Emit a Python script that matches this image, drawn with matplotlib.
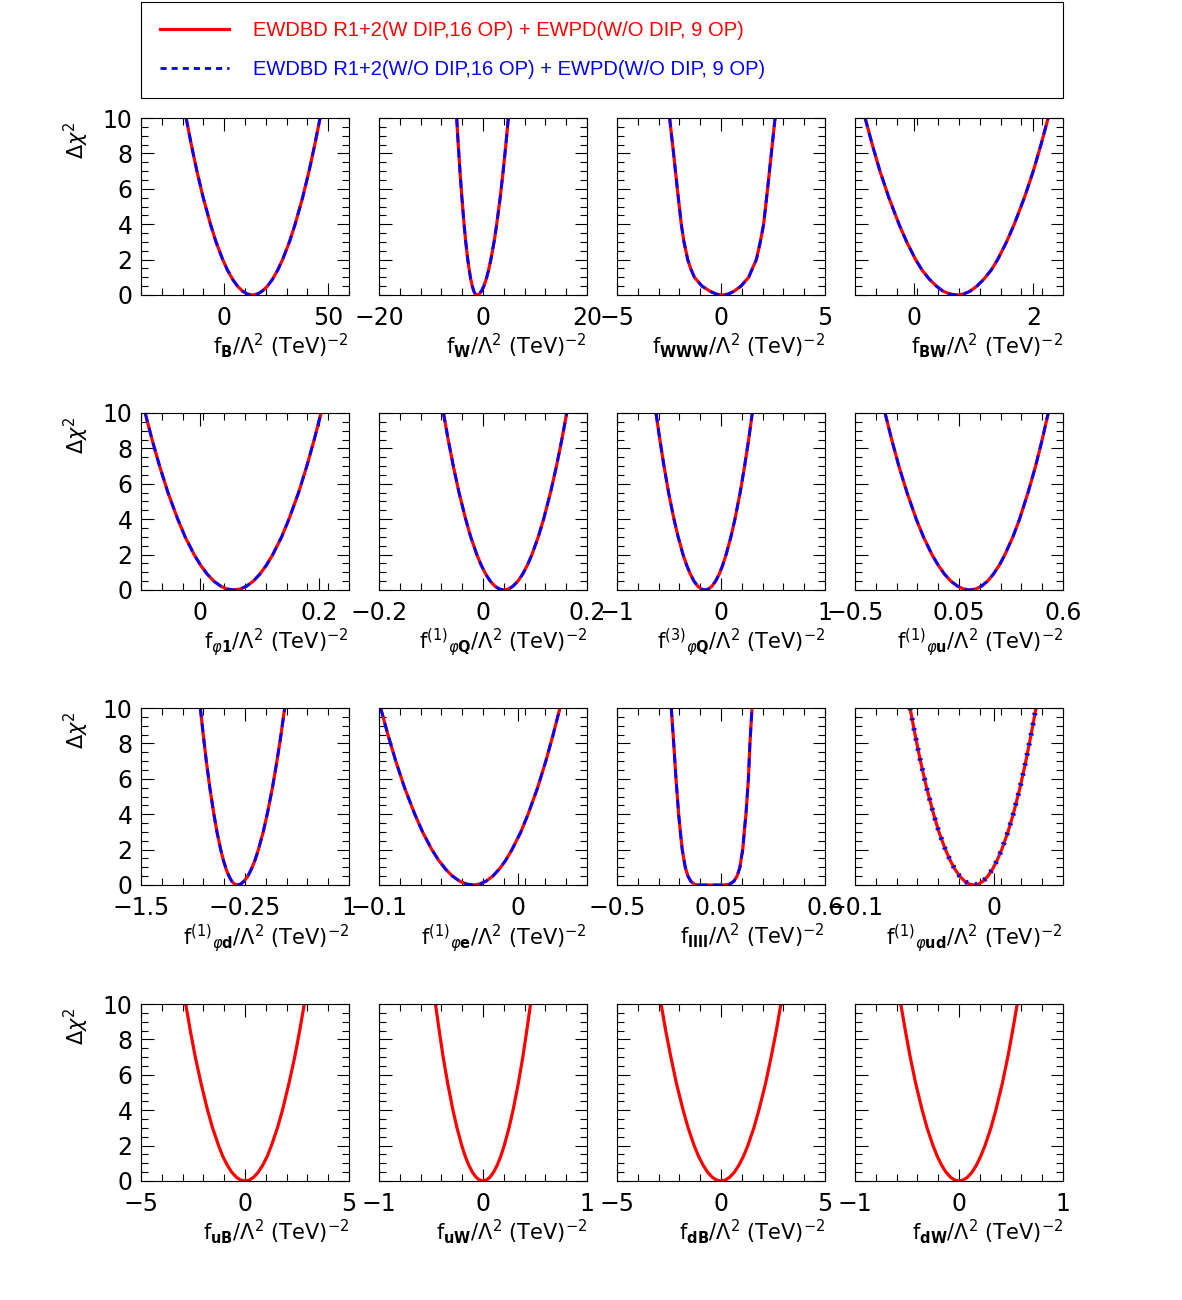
import numpy as np
import matplotlib
matplotlib.use("Agg")
import matplotlib.pyplot as plt
from matplotlib.lines import Line2D

plt.rcParams['font.family'] = ['DejaVu Sans']
plt.rcParams['mathtext.fontset'] = 'dejavusans'
plt.rcParams['axes.unicode_minus'] = True

# delta chi^2 levels for the scans (left branch -> minimum -> right branch)
levels = [10, 8.5, 7, 5.5, 4, 3, 2, 1.4, 0.9, 0.5, 0.22, 0.06, 0,
          0.06, 0.22, 0.5, 0.9, 1.4, 2, 3, 4, 5.5, 7, 8.5, 10]

fB_x = [-18.3, -15.82, -13.12, -10.10, -6.60, -3.93, -0.71, 1.61, 3.96, 6.38, 8.79, 11.05, 13.5,
        16.01, 18.32, 20.80, 23.28, 25.69, 28.07, 31.36, 34.10, 37.69, 40.79, 43.56, 46.1]
fW_x = [-5.06, -4.76, -4.43, -4.06, -3.64, -3.32, -2.93, -2.64, -2.36, -2.06, -1.77, -1.50, -1.2,
        -0.73, -0.30, 0.16, 0.62, 1.07, 1.51, 2.13, 2.64, 3.30, 3.88, 4.40, 4.87]
fWWW_x = [-2.47, -2.28, -2.10, -1.91, -1.78, -1.60, -1.46, -1.28, -0.91, -0.51, -0.22, 0.05,
          0.34, 0.61, 0.96, 1.33, 1.51, 1.70, 1.89, 2.05, 2.24, 2.42, 2.60]
fWWW_y = [10, 8, 6, 4, 3, 2, 1.5, 1, 0.5, 0.2, 0.05, 0,
          0.05, 0.2, 0.5, 1, 1.5, 2, 3, 4, 6, 8, 10]
fBW_x = [-0.83, -0.71, -0.58, -0.43, -0.26, -0.13, 0.02, 0.13, 0.25, 0.37, 0.48, 0.59, 0.71,
         0.83, 0.94, 1.05, 1.17, 1.29, 1.40, 1.55, 1.68, 1.85, 2.00, 2.13, 2.25]

fphi1_x = [-0.093, -0.0814, -0.0687, -0.0546, -0.0382, -0.0257, -0.0106, 0.0003, 0.0113, 0.0226,
           0.0339, 0.0445, 0.056, 0.0673, 0.0778, 0.0889, 0.1001, 0.1110, 0.1217, 0.1366, 0.1489,
           0.1651, 0.1790, 0.1915, 0.203]
fphiQ1_x = [-0.076, -0.067, -0.0571, -0.0461, -0.0333, -0.0236, -0.0119, -0.0034, 0.0052, 0.0140,
            0.0228, 0.0311, 0.040, 0.0493, 0.0579, 0.0671, 0.0763, 0.0853, 0.0941, 0.1063, 0.1165,
            0.1298, 0.1413, 0.1516, 0.161]
fphiQ3_x = [-0.625, -0.588, -0.548, -0.504, -0.452, -0.412, -0.365, -0.330, -0.295, -0.260, -0.224,
            -0.190, -0.154, -0.119, -0.087, -0.052, -0.017, 0.016, 0.049, 0.095, 0.134, 0.184,
            0.227, 0.266, 0.301]
fphiu1_x = [-0.341, -0.306, -0.268, -0.225, -0.176, -0.138, -0.093, -0.060, -0.027, 0.007, 0.042,
            0.073, 0.108, 0.140, 0.169, 0.201, 0.232, 0.263, 0.293, 0.335, 0.370, 0.415, 0.455,
            0.490, 0.522]

fphid1_x = [-0.787, -0.752, -0.715, -0.673, -0.624, -0.587, -0.542, -0.510, -0.477, -0.443, -0.410,
            -0.378, -0.344, -0.300, -0.260, -0.216, -0.173, -0.130, -0.089, -0.031, 0.017, 0.080,
            0.134, 0.183, 0.227]
fphie1_x = [-0.0988, -0.0936, -0.0879, -0.0816, -0.0742, -0.0686, -0.0619, -0.0570, -0.0520,
            -0.0470, -0.0419, -0.0371, -0.032, -0.0272, -0.0227, -0.0180, -0.0132, -0.0086,
            -0.0041, 0.0023, 0.0075, 0.0144, 0.0203, 0.0256, 0.0305]
fllll_x = [-0.213, -0.200, -0.188, -0.174, -0.165, -0.155, -0.147, -0.139, -0.125, -0.109, -0.091,
           -0.068, 0.064, 0.096, 0.117, 0.135, 0.150, 0.157, 0.165, 0.173, 0.182, 0.195, 0.203, 0.214]
fllll_y = [10, 8, 6, 4, 3, 2, 1.5, 1, 0.5, 0.2, 0.05, 0,
           0, 0.05, 0.2, 0.5, 1, 1.5, 2, 3, 4, 6, 8, 10]
fphiud1_x = [-0.0603, -0.0567, -0.0528, -0.0484, -0.0433, -0.0395, -0.0348, -0.0314, -0.0280,
             -0.0245, -0.0210, -0.0177, -0.0142, -0.0108, -0.0076, -0.0042, -0.0008, 0.0025,
             0.0058, 0.0103, 0.0141, 0.0190, 0.0232, 0.0270, 0.0305]

fuB_x = [-2.85, -2.63, -2.39, -2.11, -1.80, -1.56, -1.27, -1.07, -0.855, -0.638, -0.422, -0.219, 0,
         0.219, 0.422, 0.638, 0.855, 1.07, 1.27, 1.56, 1.80, 2.11, 2.39, 2.63, 2.85]
fuW_x = [-0.457, -0.421, -0.383, -0.339, -0.289, -0.250, -0.204, -0.171, -0.137, -0.102, -0.068,
         -0.035, 0, 0.035, 0.068, 0.102, 0.137, 0.171, 0.204, 0.250, 0.289, 0.339, 0.383, 0.421, 0.457]
fdB_x = [-2.88, -2.66, -2.41, -2.14, -1.82, -1.58, -1.29, -1.08, -0.864, -0.645, -0.426, -0.222, 0,
         0.222, 0.426, 0.645, 0.864, 1.08, 1.29, 1.58, 1.82, 2.14, 2.41, 2.66, 2.88]
fdW_x = [-0.56, -0.516, -0.469, -0.416, -0.354, -0.307, -0.250, -0.209, -0.168, -0.125, -0.083,
         -0.043, 0, 0.043, 0.083, 0.125, 0.168, 0.209, 0.250, 0.307, 0.354, 0.416, 0.469, 0.516, 0.56]

curves = [
    (fB_x, levels), (fW_x, levels), (fWWW_x, fWWW_y), (fBW_x, levels),
    (fphi1_x, levels), (fphiQ1_x, levels), (fphiQ3_x, levels), (fphiu1_x, levels),
    (fphid1_x, levels), (fphie1_x, levels), (fllll_x, fllll_y), (fphiud1_x, levels),
    (fuB_x, levels), (fuW_x, levels), (fdB_x, levels), (fdW_x, levels),
]

xlims = [(-40, 60), (-20, 20), (-5, 5), (-1, 2.5),
         (-0.1, 0.25), (-0.2, 0.2), (-1, 1), (-0.5, 0.6),
         (-1.5, 1), (-0.1, 0.05), (-0.5, 0.6), (-0.1, 0.05),
         (-5, 5), (-1, 1), (-5, 5), (-1, 1)]

xticks = [[0, 50], [-20, 0, 20], [-5, 0, 5], [0, 2],
          [0, 0.2], [-0.2, 0, 0.2], [-1, 0, 1], [-0.5, 0.05, 0.6],
          [-1.5, -0.25, 1], [-0.1, 0], [-0.5, 0.05, 0.6], [-0.1, 0],
          [-5, 0, 5], [-1, 0, 1], [-5, 0, 5], [-1, 0, 1]]

tail = r'/$\Lambda^{2}$ (TeV)$^{-2}$'
xlabels = [
    r'f$_{\mathbf{B}}$' + tail, r'f$_{\mathbf{W}}$' + tail,
    r'f$_{\mathbf{WWW}}$' + tail, r'f$_{\mathbf{BW}}$' + tail,
    r'f$_{\varphi\mathbf{1}}$' + tail, r'f$^{(1)}$$_{\varphi\mathbf{Q}}$' + tail,
    r'f$^{(3)}$$_{\varphi\mathbf{Q}}$' + tail, r'f$^{(1)}$$_{\varphi\mathbf{u}}$' + tail,
    r'f$^{(1)}$$_{\varphi\mathbf{d}}$' + tail, r'f$^{(1)}$$_{\varphi\mathbf{e}}$' + tail,
    r'f$_{\mathbf{llll}}$' + tail, r'f$^{(1)}$$_{\varphi\mathbf{ud}}$' + tail,
    r'f$_{\mathbf{uB}}$' + tail, r'f$_{\mathbf{uW}}$' + tail,
    r'f$_{\mathbf{dB}}$' + tail, r'f$_{\mathbf{dW}}$' + tail,
]

label_red = 'EWDBD R1+2(W DIP,16 OP) + EWPD(W/O DIP, 9 OP)'
label_blue = 'EWDBD R1+2(W/O DIP,16 OP) + EWPD(W/O DIP, 9 OP)'

W, H = 1182, 1300
fig = plt.figure(figsize=(W / 100, H / 100), dpi=100)

col_x = [141, 379, 617, 855]
row_top = [118, 413, 708, 1004]
pw, ph = 208, 177


def fmt(v):
    return ('%g' % v).replace('-', '\u2212')


for i, (cx, cy) in enumerate(curves):
    r, c = divmod(i, 4)
    ax = fig.add_axes([col_x[c] / W, 1 - (row_top[r] + ph) / H, pw / W, ph / H])
    ax.plot(cx, cy, color='red', lw=2.3, solid_joinstyle='round')
    if r < 3:
        if i == 11:
            # this scan is drawn with short dashes
            ax.plot(cx, cy, color='blue', lw=3.6, dashes=(0.45, 1.6))
        else:
            ax.plot(cx, cy, color='blue', lw=2.0, dashes=(3.3, 2.2))
    x0, x1 = xlims[i]
    ax.set_xlim(x0, x1)
    ax.set_ylim(0, 10)
    ax.set_xticks(xticks[i])
    ax.set_xticklabels([fmt(v) for v in xticks[i]])
    ax.set_xticks(np.linspace(x0, x1, 11), minor=True)
    ax.set_yticks([0, 2, 4, 6, 8, 10])
    ax.set_yticks(np.arange(0, 10.01, 0.5), minor=True)
    if c == 0:
        ax.set_yticklabels(['0', '2', '4', '6', '8', '10'])
        fig.text(76 / W, 1 - (row_top[r] + 22) / H, r'$\Delta\chi^{2}$', rotation=90,
                 ha='center', va='center', fontsize=15)
    else:
        ax.set_yticklabels([])
    ax.tick_params(which='both', direction='in', top=True, right=True, width=0.8)
    ax.tick_params(which='major', length=9, labelsize=17, pad=6)
    ax.tick_params(which='minor', length=5)
    ax.tick_params(axis='x', which='major', pad=8)
    for sp in ax.spines.values():
        sp.set_linewidth(0.8)
    ax.set_xlabel(xlabels[i], loc='right', fontsize=15, labelpad=1)

handles = [Line2D([], [], color='red', lw=2.3),
           Line2D([], [], color='blue', lw=2.0, dashes=(2.2, 1.8))]
leg = fig.legend(handles, [label_red, label_blue], loc='upper left',
                 bbox_to_anchor=(141 / W, 1 - 98 / H, 922 / W, 96 / H), mode='expand',
                 frameon=True, fancybox=False, edgecolor='black', framealpha=1,
                 borderaxespad=0, handlelength=3.4, handletextpad=1.2,
                 labelspacing=1.0, borderpad=0.95, labelcolor='linecolor',
                 prop={'family': 'Liberation Sans', 'size': 14.5})
leg.get_frame().set_linewidth(0.8)

fig.savefig('out.png', dpi=100)
